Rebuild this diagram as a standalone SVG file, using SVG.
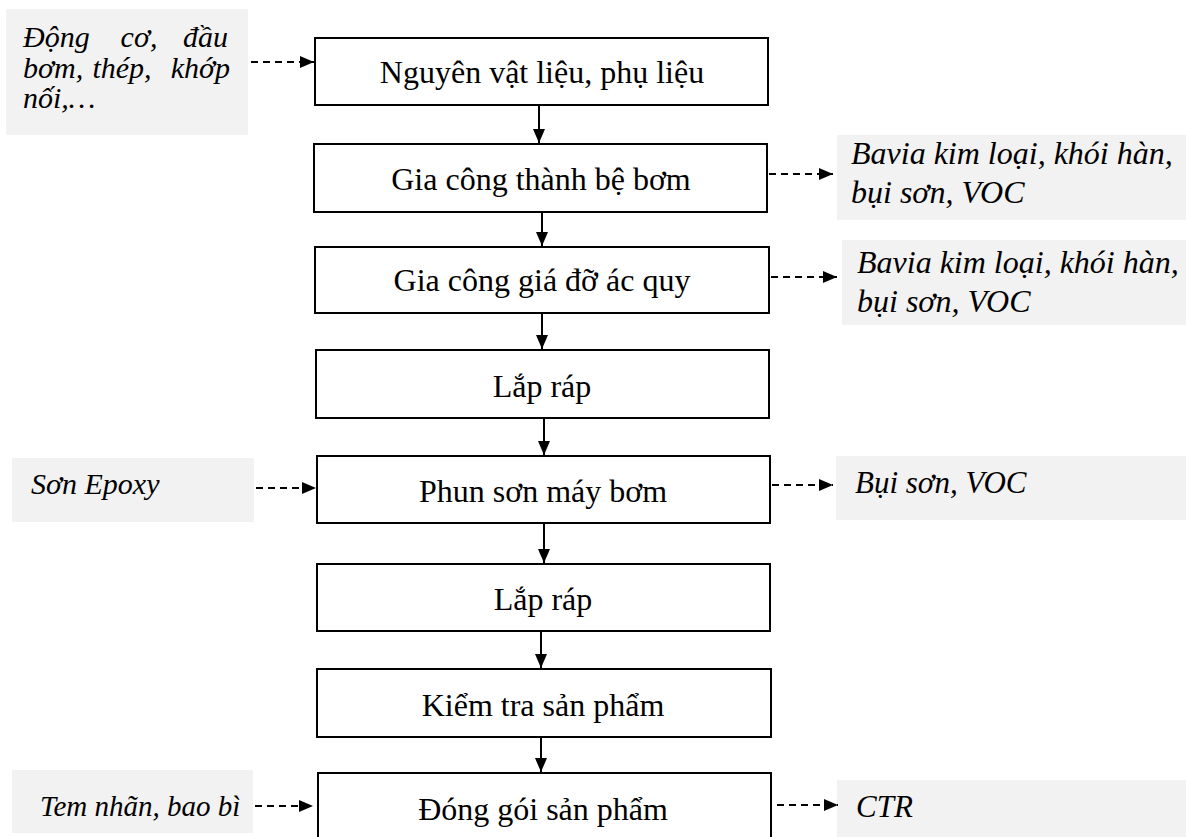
<svg xmlns="http://www.w3.org/2000/svg" width="1186" height="837" viewBox="0 0 1186 837">
<style>
.box{fill:#ffffff;stroke:#000;stroke-width:2}
.side{fill:#f2f2f2;stroke:none}
.t{font-family:"Liberation Serif","Times New Roman",serif;font-size:32px;fill:#000;text-anchor:middle}
.i{font-family:"Liberation Serif","Times New Roman",serif;font-style:italic;fill:#000}
.solid{stroke:#000;stroke-width:2;fill:none}
.dash{stroke:#000;stroke-width:2;fill:none;stroke-dasharray:7 5}
</style>
<defs>
<marker id="ah" viewBox="0 0 14 12" refX="14" refY="6" markerWidth="14" markerHeight="12" markerUnits="userSpaceOnUse" orient="auto">
<path d="M0,0 L14,6 L0,12 Z" fill="#000"/>
</marker>
</defs>

<g id="in1"><rect class="side" x="6" y="9" width="242" height="126"/>
<text class="i" font-size="30"><tspan x="23" y="47">Động</tspan><tspan x="139" y="47" text-anchor="middle">cơ,</tspan><tspan x="228" y="47" text-anchor="end">đầu</tspan><tspan x="23" y="78">bơm,</tspan><tspan x="122" y="78" text-anchor="middle">thép,</tspan><tspan x="230" y="78" text-anchor="end">khớp</tspan><tspan x="23" y="108">nối,…</tspan></text></g>
<g id="out1"><rect class="side" x="837" y="135" width="349" height="85"/>
<text class="i" font-size="32"><tspan x="851" y="164">Bavia kim loại, khói hàn,</tspan><tspan x="851" y="203">bụi sơn, VOC</tspan></text></g>
<g id="out2"><rect class="side" x="842" y="240" width="344" height="85"/>
<text class="i" font-size="32"><tspan x="857" y="273">Bavia kim loại, khói hàn,</tspan><tspan x="857" y="312">bụi sơn, VOC</tspan></text></g>
<g id="in2"><rect class="side" x="12" y="458" width="242" height="64"/>
<text class="i" font-size="30" x="31" y="494">Sơn Epoxy</text></g>
<g id="out3"><rect class="side" x="836" y="456" width="350" height="64"/>
<text class="i" font-size="31" x="855" y="493">Bụi sơn, VOC</text></g>
<g id="in3"><rect class="side" x="12" y="770" width="241" height="63"/>
<text class="i" font-size="29" x="40" y="816">Tem nhãn, bao bì</text></g>
<g id="out4"><rect class="side" x="837" y="780" width="349" height="57"/>
<text class="i" font-size="31" x="856" y="817">CTR</text></g>

<g id="n1"><rect class="box" x="315" y="38" width="453" height="67"/><text class="t" x="542" y="83">Nguyên vật liệu, phụ liệu</text></g>
<g id="n2"><rect class="box" x="314" y="144" width="453" height="68"/><text class="t" x="541" y="190">Gia công thành bệ bơm</text></g>
<g id="n3"><rect class="box" x="315" y="247" width="454" height="66"/><text class="t" x="542" y="291">Gia công giá đỡ ác quy</text></g>
<g id="n4"><rect class="box" x="316" y="350" width="453" height="68"/><text class="t" x="542" y="397">Lắp ráp</text></g>
<g id="n5"><rect class="box" x="317" y="456" width="453" height="67"/><text class="t" x="543" y="502">Phun sơn máy bơm</text></g>
<g id="n6"><rect class="box" x="317" y="564" width="453" height="67"/><text class="t" x="543" y="610">Lắp ráp</text></g>
<g id="n7"><rect class="box" x="317" y="669" width="454" height="68"/><text class="t" x="543" y="716">Kiểm tra sản phẩm</text></g>
<g id="n8"><rect class="box" x="318" y="773" width="453" height="68"/><text class="t" x="543" y="820">Đóng gói sản phẩm</text></g>

<g id="connectors">
<line class="solid" x1="539" y1="105" x2="539" y2="143" marker-end="url(#ah)"/>
<line class="solid" x1="542" y1="212" x2="542" y2="246" marker-end="url(#ah)"/>
<line class="solid" x1="542" y1="313" x2="542" y2="349" marker-end="url(#ah)"/>
<line class="solid" x1="544" y1="418" x2="544" y2="455" marker-end="url(#ah)"/>
<line class="solid" x1="544" y1="523" x2="544" y2="563" marker-end="url(#ah)"/>
<line class="solid" x1="541" y1="631" x2="541" y2="668" marker-end="url(#ah)"/>
<line class="solid" x1="541" y1="737" x2="541" y2="772" marker-end="url(#ah)"/>
<line class="dash" x1="251" y1="62" x2="314" y2="62" marker-end="url(#ah)"/>
<line class="dash" x1="769" y1="174" x2="833" y2="174" marker-end="url(#ah)"/>
<line class="dash" x1="771" y1="277" x2="837" y2="277" marker-end="url(#ah)"/>
<line class="dash" x1="256" y1="488" x2="316" y2="488" marker-end="url(#ah)"/>
<line class="dash" x1="772" y1="485" x2="833" y2="485" marker-end="url(#ah)"/>
<line class="dash" x1="255" y1="806" x2="313" y2="806" marker-end="url(#ah)"/>
<line class="dash" x1="777" y1="805" x2="838" y2="805" marker-end="url(#ah)"/>
</g>
</svg>
